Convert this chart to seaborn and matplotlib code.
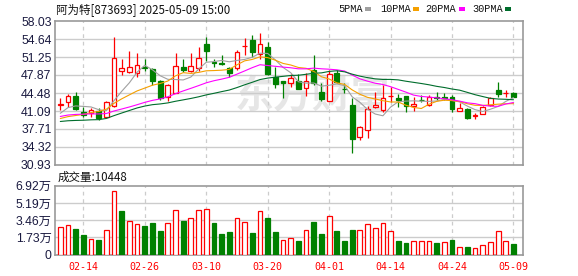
import numpy as np
import pandas as pd
import matplotlib
matplotlib.use("Agg")
import matplotlib.pyplot as plt
from matplotlib.patches import Rectangle
import seaborn as sns

# ---------------- data ----------------
dates = ["02-11", "02-12", "02-13", "02-14", "02-17", "02-18", "02-19", "02-20", "02-21", "02-24",
         "02-25", "02-26", "02-27", "02-28", "03-03", "03-04", "03-05", "03-06", "03-07", "03-10",
         "03-11", "03-12", "03-13", "03-14", "03-17", "03-18", "03-19", "03-20", "03-21", "03-24",
         "03-25", "03-26", "03-27", "03-28", "03-31", "04-01", "04-02", "04-03", "04-07", "04-08",
         "04-09", "04-10", "04-11", "04-14", "04-15", "04-16", "04-17", "04-18", "04-21", "04-22",
         "04-23", "04-24", "04-25", "04-28", "04-29", "04-30", "05-06", "05-07", "05-08", "05-09"]

open_ = [42.30, 42.73, 43.86, 40.85, 40.66, 41.15, 40.03, 42.09, 48.68, 48.43,
         48.19, 49.38, 48.94, 46.74, 43.79, 44.54, 49.37, 48.56, 49.13, 53.70,
         50.35, 50.19, 49.25, 49.13, 53.25, 54.45, 51.82, 53.08, 47.43, 46.74,
         46.30, 46.74, 45.36, 48.81, 44.73, 43.03, 48.19, 45.30, 42.22, 36.14,
         37.52, 41.79, 41.28, 43.88, 43.48, 43.92, 42.03, 43.20, 42.22, 43.65,
         43.65, 43.79, 41.10, 41.41, 40.18, 40.53, 42.22, 45.04, 44.50, 44.54]
high = [43.48, 44.29, 44.73, 41.79, 41.66, 41.60, 43.03, 55.08, 50.82, 52.38,
        51.95, 50.82, 49.13, 46.93, 46.17, 52.07, 50.88, 52.07, 53.20, 55.08,
        50.88, 51.63, 49.44, 52.57, 54.90, 55.40, 55.71, 54.14, 49.44, 46.74,
        48.00, 48.00, 48.19, 51.63, 46.30, 48.81, 48.81, 46.30, 43.48, 38.27,
        42.03, 44.73, 45.99, 45.67, 44.29, 43.92, 43.79, 44.10, 44.10, 44.73,
        44.54, 44.04, 42.66, 41.60, 40.78, 42.03, 43.79, 46.61, 45.04, 44.67]
low = [41.28, 41.79, 41.28, 40.03, 40.03, 39.40, 39.72, 41.79, 47.87, 48.19,
       47.55, 48.68, 45.99, 43.16, 43.04, 44.42, 48.37, 48.37, 48.68, 50.56,
       49.32, 49.75, 47.55, 48.81, 51.60, 51.31, 50.82, 47.87, 45.48, 43.60,
       45.67, 45.23, 43.92, 45.99, 42.97, 43.03, 46.30, 44.42, 33.25, 35.63,
       36.07, 41.60, 40.97, 42.84, 41.91, 40.97, 41.10, 42.84, 42.03, 43.16,
       43.16, 40.97, 41.10, 39.59, 39.59, 40.47, 42.03, 43.79, 43.67, 43.67]
close = [42.38, 43.86, 41.41, 40.34, 41.28, 39.83, 42.79, 51.01, 49.13, 49.32,
         49.75, 49.20, 46.80, 43.60, 45.92, 49.56, 48.81, 49.56, 51.01, 52.38,
         50.20, 49.88, 48.31, 52.25, 53.35, 52.25, 53.70, 48.06, 46.17, 46.30,
         47.24, 45.23, 46.74, 46.30, 43.35, 48.06, 46.49, 45.15, 35.77, 38.14,
         41.41, 42.16, 43.48, 43.95, 43.16, 42.03, 42.41, 43.12, 43.79, 43.55,
         43.60, 41.41, 41.66, 39.83, 40.25, 41.79, 43.60, 44.29, 44.56, 43.79]
# closes before the visible window (estimated from where the MA lines start)
prior_close = [39.8, 39.5, 39.2, 39.0, 38.8, 36.0, 35.0, 34.5, 35.0, 35.5,
               38.5, 39.0, 39.5, 40.0, 40.3, 41.0, 41.5, 41.8, 41.6, 41.3,
               40.3, 39.3, 38.3, 37.8, 37.8, 38.5, 39.8, 40.8, 41.8]
volume = [27400, 29500, 25800, 19800, 15400, 14700, 24400, 63600, 43800, 33500,
          30800, 28800, 31800, 23800, 31800, 44500, 33800, 36500, 44500, 45500,
          31800, 20800, 22800, 36500, 32500, 21800, 43500, 36800, 22800, 14400,
          17100, 13700, 24400, 32800, 20800, 38500, 23800, 13700, 24800, 24400,
          30500, 26500, 31500, 23500, 13700, 11700, 13400, 13400, 13400, 11700,
          12400, 14400, 7400, 7400, 6400, 10000, 12400, 23500, 13400, 10448]
tick_dates = ["02-14", "02-26", "03-10", "03-20", "04-01", "04-14", "04-24", "05-09"]
price_ticks = [30.93, 34.32, 37.71, 41.09, 44.48, 47.87, 51.25, 54.64, 58.03]
vol_ticks = [0, 17300, 34600, 51900, 69200]
vol_tick_labels = ["0", "1.73万", "3.46万", "5.19万", "6.92万"]
ma_windows = [5, 10, 20, 30]
ma_names = ["5PMA", "10PMA", "20PMA", "30PMA"]
title = "阿为特[873693] 2025-05-09 15:00"
vol_title = "成交量:10448"

# ---------------- styling ----------------
RED = "#ff0000"
GREEN = "#008000"
MA_COLORS = ["#a0a0a0", "#f5a000", "#ff00ff", "#006d2c"]
GRID = "#cccccc"
SPINE = "#999999"
LABEL = "#1a1a40"

sns.set_style("white")
plt.rcParams["font.family"] = ["Liberation Sans", "Noto Sans CJK SC"]

W, H = 578, 276
fig = plt.figure(figsize=(W / 100, H / 100), dpi=100)


def rect(l, t, r, b):
    return [l / W, 1 - b / H, (r - l) / W, (b - t) / H]


ax = fig.add_axes(rect(55, 21, 522.7, 165))
axv = fig.add_axes(rect(55, 185.7, 522.7, 254.7))

n = len(close)
x = np.arange(n)
o = np.array(open_)
c = np.array(close)
hi = np.array(high)
lo = np.array(low)
up = c >= o

# ---- candles ----
ax.vlines(x[up], lo[up], hi[up], color=RED, lw=0.9, zorder=3)
ax.vlines(x[~up], lo[~up], hi[~up], color=GREEN, lw=0.9, zorder=3)
bw = 0.62
body_h = np.maximum(np.abs(c - o), 0.04)
body_b = np.minimum(o, c)
ax.bar(x[up], body_h[up], bottom=body_b[up], width=bw, facecolor="white",
       edgecolor=RED, linewidth=0.9, zorder=4)
ax.bar(x[~up], body_h[~up], bottom=body_b[~up], width=bw, facecolor=GREEN,
       edgecolor=GREEN, linewidth=0.9, zorder=4)

# ---- moving averages ----
full = pd.Series(list(prior_close) + list(close))
rows = []
for w, name in zip(ma_windows, ma_names):
    ma = full.rolling(w).mean().iloc[len(prior_close):].values
    rows.append(pd.DataFrame({"i": x, "val": ma, "ma": name}))
ma_df = pd.concat(rows, ignore_index=True)
sns.lineplot(data=ma_df, x="i", y="val", hue="ma", palette=dict(zip(ma_names, MA_COLORS)),
             hue_order=ma_names, linewidth=0.8, legend=False, ax=ax, zorder=5)

# ---- volume ----
prev = np.concatenate([[prior_close[-1]], c[:-1]])
vup = c >= prev
v = np.array(volume)
axv.bar(x[vup], v[vup], width=bw, facecolor="white", edgecolor=RED, linewidth=0.9, zorder=3)
axv.bar(x[~vup], v[~vup], width=bw, facecolor=GREEN, edgecolor=GREEN, linewidth=0.9, zorder=3)

# ---- axes formatting ----
tick_pos = [dates.index(d) for d in tick_dates]
for a in (ax, axv):
    a.set_xlim(-0.69, 60.2)
    a.set_xticks(tick_pos)
    a.set_xlabel("")
    a.set_ylabel("")
    a.grid(False)
    for xp in tick_pos:
        a.axvline(xp, color=GRID, lw=0.9, ls=(0, (3, 3)), zorder=1)
    for s in a.spines.values():
        s.set_visible(True)
        s.set_color(SPINE)
        s.set_linewidth(1.2)
    a.tick_params(axis="both", length=0)

ax.set_ylim(price_ticks[0], price_ticks[-1])
ax.set_yticks(price_ticks)
ax.set_yticklabels([f"{t:.2f}" for t in price_ticks], fontsize=8.8, color=LABEL)
ax.tick_params(axis="y", pad=2.5)
ax.set_xticklabels([])
for t in price_ticks[1:-1]:
    ax.axhline(t, color=GRID, lw=1.0, zorder=1)

axv.set_ylim(0, vol_ticks[-1])
axv.set_yticks(vol_ticks)
axv.set_yticklabels(vol_tick_labels, fontsize=8.8, color=LABEL)
axv.tick_params(axis="y", pad=2.5)
axv.set_xticklabels(tick_dates, fontsize=7.2, color=RED, family="DejaVu Sans Mono")
axv.tick_params(axis="x", pad=5)
for t in vol_ticks[1:-1]:
    axv.axhline(t, color=GRID, lw=1.0, zorder=1)

# watermark
ax.text(0.55, 0.47, "东方财富", transform=ax.transAxes, ha="center", va="center",
        fontsize=28, color="#e6e6e6", fontweight="bold", style="italic",
        family=["Noto Sans CJK SC"], zorder=0)

# ---- header texts ----
fig.text(55.5 / W, 1 - 10 / H, title, ha="left", va="center", fontsize=8.3,
         color="#111111", family=["Noto Sans CJK SC", "DejaVu Sans"])
fig.text(57.5 / W, 1 - 177.5 / H, vol_title, ha="left", va="center", fontsize=8.3,
         color="#111111", family=["Noto Sans CJK SC", "DejaVu Sans"])

leg_x = [338, 380, 425, 472]
box_x = [365, 413, 459, 505]
for name, col, tx, bx in zip(ma_names, MA_COLORS, leg_x, box_x):
    fig.text(tx / W, 1 - 9.5 / H, name, ha="left", va="center", fontsize=7.4,
             color="#111111", family="Liberation Mono")
    fig.add_artist(Rectangle((bx / W, 1 - 11 / H), 6 / W, 3.6 / H,
                             transform=fig.transFigure, facecolor=col, edgecolor="none"))

fig.savefig("out.png", dpi=100, facecolor="white")
